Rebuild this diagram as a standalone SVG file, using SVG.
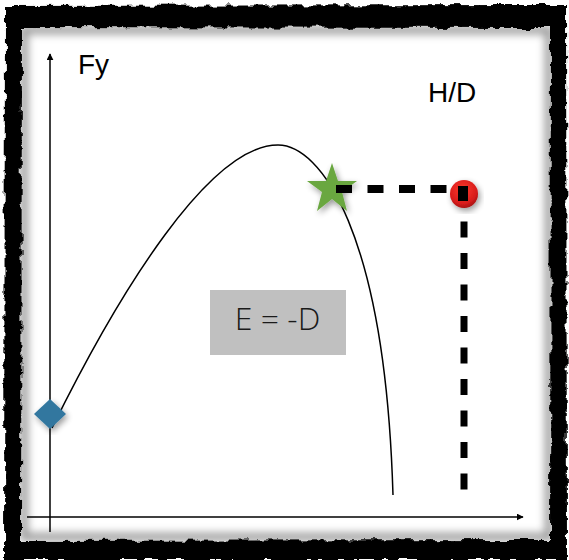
<svg xmlns="http://www.w3.org/2000/svg" width="569" height="560" viewBox="0 0 569 560">
<style>
.axis{stroke:#000;stroke-width:1.5;fill:none}
.dash{stroke:#000;stroke-width:8;fill:none;stroke-dasharray:16 15.5}
.lbl{font-family:"Liberation Sans",Arial,sans-serif;fill:#000;font-size:28px}
</style>
<defs>
<marker id="arr" viewBox="0 0 10 10" refX="9" refY="5" markerWidth="7" markerHeight="7" markerUnits="userSpaceOnUse" orient="auto">
<path d="M0,0 L10,5 L0,10 z" fill="#000"/>
</marker>
<filter id="rough" x="-5%" y="-5%" width="110%" height="110%">
<feTurbulence type="fractalNoise" baseFrequency="0.09" numOctaves="3" seed="4" result="n"/>
<feDisplacementMap in="SourceGraphic" in2="n" scale="8" xChannelSelector="R" yChannelSelector="G"/>
</filter>
<filter id="shadow" x="-20%" y="-20%" width="140%" height="140%">
<feGaussianBlur in="SourceAlpha" stdDeviation="3"/>
<feOffset dx="2" dy="3" result="b"/>
<feComponentTransfer><feFuncA type="linear" slope="0.4"/></feComponentTransfer>
<feMerge><feMergeNode/><feMergeNode in="SourceGraphic"/></feMerge>
</filter>
<filter id="blur"><feGaussianBlur stdDeviation="4"/></filter>
<radialGradient id="red" cx="0.45" cy="0.35" r="0.7">
<stop offset="0" stop-color="#ff3a2a"/>
<stop offset="0.7" stop-color="#d81c1c"/>
<stop offset="1" stop-color="#9a0e0e"/>
</radialGradient>
</defs>
<rect width="569" height="560" fill="#fff"/>
<g id="frame">
<path d="M24,30 H549 V537 H24 Z" fill="none" stroke="#999" stroke-width="8" filter="url(#blur)"/>
<path fill="#000" fill-rule="evenodd" filter="url(#rough)" d="M5,6 L566,5 L567,560 L4,560 Z M22,27 L551,28 L550,540 L21,541 Z"/>
</g>
<g id="connectors">
<line class="axis" x1="50" y1="532" x2="50" y2="54" marker-end="url(#arr)"/>
<line class="axis" x1="27" y1="517" x2="523" y2="517" marker-end="url(#arr)"/>
<path d="M52,428 C120,290 210,145 278,145 C320,145 385,230 393,495" fill="none" stroke="#000" stroke-width="1.5"/>
<line class="dash" x1="336" y1="189" x2="464" y2="189"/>
<line class="dash" x1="464" y1="190" x2="464" y2="490" style="stroke-width:7"/>
</g>
<g id="diamond" filter="url(#shadow)">
<polygon points="50,399 66,414 50,429 34,414" fill="#31779f"/>
</g>
<g id="star" filter="url(#shadow)">
<polygon points="332,163 338,181 357,181 342,192 347,211 332,199 317,211 322,192 307,181 326,181" fill="#6aa740"/>
</g>
<g id="dot" filter="url(#shadow)">
<circle cx="464" cy="194" r="14" fill="url(#red)"/>
</g>
<line class="dash" x1="336" y1="189" x2="352" y2="189" style="stroke-dasharray:none"/>
<rect x="458" y="186" width="10" height="15" fill="#000"/>
<g id="box">
<rect x="210" y="290" width="136" height="65" fill="#c0c0c0"/>
<text x="277.5" y="330" text-anchor="middle" font-family="'Open Sans','Noto Sans',sans-serif" font-weight="300" font-size="32" fill="#1a1a1a">E = -D</text>
</g>
<text class="lbl" x="78" y="74">Fy</text>
<text class="lbl" x="428" y="102">H/D</text>
</svg>
